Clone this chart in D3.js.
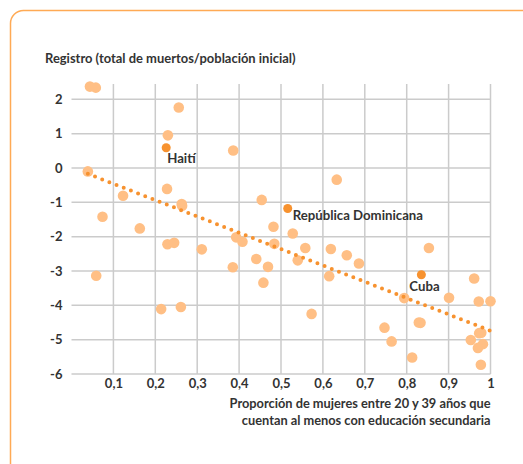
<!DOCTYPE html>
<html>
<head>
<meta charset="utf-8">
<script src="https://cdn.jsdelivr.net/npm/d3@7"></script>
<style>
  html, body { margin: 0; padding: 0; background: #fff; }
  svg { display: block; font-family: Lato, sans-serif; }
</style>
</head>
<body>
<svg id="chart" width="523" height="464"></svg>
<script>
// ---- data ----
const xValues = [0.044, 0.058, 0.256, 0.230, 0.386, 0.039, 0.228, 0.123, 0.263, 0.264, 0.454, 0.074, 0.163, 0.482,
  0.633, 0.229, 0.245, 0.311, 0.393, 0.408, 0.484, 0.441, 0.469, 0.385, 0.458, 0.059, 0.214, 0.261,
  0.528, 0.558, 0.540, 0.619, 0.657, 0.686, 0.615, 0.573, 0.853, 0.794, 0.901, 0.961, 0.972, 1.000,
  0.747, 0.829, 0.833, 0.764, 0.813, 0.953, 0.973, 0.978, 0.982, 0.970, 0.977];
const yValues = [2.37, 2.34, 1.76, 0.95, 0.51, -0.10, -0.61, -0.81, -1.05, -1.10, -0.93, -1.42, -1.76, -1.71,
  -0.34, -2.22, -2.18, -2.37, -2.02, -2.15, -2.21, -2.65, -2.88, -2.89, -3.34, -3.14, -4.11, -4.05,
  -1.91, -2.33, -2.69, -2.36, -2.54, -2.78, -3.15, -4.25, -2.33, -3.79, -3.78, -3.22, -3.89, -3.88,
  -4.65, -4.50, -4.51, -5.05, -5.52, -5.01, -4.81, -4.80, -5.13, -5.24, -5.73];
const highlightNames = ["Haití", "República Dominicana", "Cuba"];
const highlightX = [0.226, 0.516, 0.835];
const highlightY = [0.59, -1.18, -3.11];
const trendX = [0.039, 1.0];
const trendY = [-0.17, -4.74];
const xTicks = [0.1, 0.2, 0.3, 0.4, 0.5, 0.6, 0.7, 0.8, 0.9, 1];
const yTicks = [2, 1, 0, -1, -2, -3, -4, -5, -6];
const yTitle = "Registro (total de muertos/población inicial)";
const xTitle = ["Proporción de mujeres entre 20 y 39 años que", "cuentan al menos con educación secundaria"];

// ---- drawing ----
const svg = d3.select("#chart");
const light = "#FFBF85", dark = "#F7922F", grid = "#CBCBCB", ink = "#333333";
const FW = 700;

svg.append("rect").attr("x", 10.5).attr("y", 10.5).attr("width", 560).attr("height", 520)
  .attr("rx", 13).attr("fill", "#fff").attr("stroke", "#FFAA55").attr("stroke-width", 1.5);

const x = d3.scaleLinear().domain([0, 1]).range([71.5, 490.5]);
const y = d3.scaleLinear().domain([-6, 2]).range([374, 99.3]);
const topY = 84;

// grid
svg.append("g").selectAll("line").data(xTicks).join("line")
  .attr("x1", d => x(d)).attr("x2", d => x(d)).attr("y1", topY).attr("y2", y(-6))
  .attr("stroke", grid).attr("stroke-width", 1.5);
svg.append("g").selectAll("line").data(yTicks).join("line")
  .attr("x1", x(0)).attr("x2", x(1)).attr("y1", d => y(d)).attr("y2", d => y(d))
  .attr("stroke", grid).attr("stroke-width", 1.5);

// axes labels via d3 axes
const xAxis = svg.append("g").attr("transform", `translate(0,${y(-6)})`)
  .call(d3.axisBottom(x).tickValues(xTicks).tickSize(0).tickPadding(5)
    .tickFormat(d => String(d).replace(".", ",")));
xAxis.select(".domain").remove();
xAxis.selectAll("text").attr("font-size", 13).attr("font-weight", FW).attr("fill", ink)
  .attr("font-family", "Lato, sans-serif");

const yAxis = svg.append("g").attr("transform", `translate(${x(0)},0)`)
  .call(d3.axisLeft(y).tickValues(yTicks).tickSize(0).tickPadding(9).tickFormat(d => d));
yAxis.select(".domain").remove();
yAxis.selectAll("text").attr("font-size", 13).attr("font-weight", FW).attr("fill", ink)
  .attr("font-family", "Lato, sans-serif");

// titles
svg.append("text").attr("x", 45).attr("y", 63).text(yTitle)
  .attr("font-size", 12.95).attr("font-weight", FW).attr("fill", ink).attr("font-family", "Lato, sans-serif");
svg.append("g").selectAll("text").data(xTitle).join("text")
  .attr("x", x(1)).attr("y", (d, i) => 408 + i * 16.5).attr("text-anchor", "end").text(d => d)
  .attr("font-size", 12.8).attr("font-weight", FW).attr("fill", ink).attr("font-family", "Lato, sans-serif");

// points
const pts = xValues.map((v, i) => [v, yValues[i]]);
svg.append("g").selectAll("circle").data(pts).join("circle")
  .attr("cx", d => x(d[0])).attr("cy", d => y(d[1])).attr("r", 5.3).attr("fill", light);

// trend
svg.append("line")
  .attr("x1", x(trendX[0])).attr("y1", y(trendY[0])).attr("x2", x(trendX[1])).attr("y2", y(trendY[1]))
  .attr("stroke", dark).attr("stroke-width", 4).attr("stroke-linecap", "round")
  .attr("stroke-dasharray", "0 7.7");

// highlighted
const hl = highlightNames.map((n, i) => ({ n, x: highlightX[i], y: highlightY[i] }));
svg.append("g").selectAll("circle").data(hl).join("circle")
  .attr("cx", d => x(d.x)).attr("cy", d => y(d.y)).attr("r", 4.5).attr("fill", dark);
const offs = [[1, 15], [5, 11.5], [-12, 16.5]];
svg.append("g").selectAll("text").data(hl).join("text")
  .attr("x", (d, i) => x(d.x) + offs[i][0]).attr("y", (d, i) => y(d.y) + offs[i][1])
  .text(d => d.n).attr("font-size", 13.2).attr("font-weight", FW).attr("fill", ink)
  .attr("font-family", "Lato, sans-serif");
</script>
</body>
</html>
